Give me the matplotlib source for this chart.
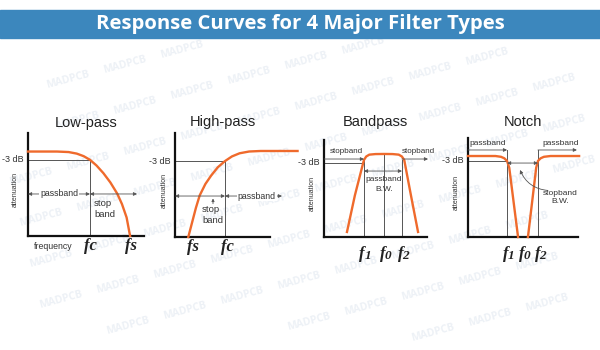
import matplotlib.pyplot as plt
from matplotlib.patches import Rectangle

# ---- chart content (axis units: 0..100 along each drawn axis) ----
title = 'Response Curves for 4 Major Filter Types'
panel_titles = ['Low-pass', 'High-pass', 'Bandpass', 'Notch']

# low-pass
lp_x = [0, 25, 35, 42, 48, 53.4, 59, 65, 71, 77, 81, 85, 88]
lp_y = [82, 82, 81.5, 80, 77.5, 74, 68.5, 61, 52, 41, 31, 18, 0]
lp_fc, lp_fs, lp_db = 53.4, 88, 74

# high-pass
hp_x = [14, 18, 22, 26, 32, 38, 45, 52.6, 60, 68, 78, 90, 129]
hp_y = [0, 14, 28, 40, 51, 59, 67, 73, 77.5, 80.5, 82.2, 82.7, 82.7]
hp_fc, hp_fs, hp_db = 52.6, 14, 73

# bandpass
bp_x = [22.3, 30, 36.5, 38.8, 41, 44, 50, 58.3, 66.6, 72.6, 75.6, 77.9, 84.4, 91.3]
bp_y = [5.2, 43, 70, 79.4, 83, 84.9, 85.5, 85.6, 85.5, 84.9, 83, 79.4, 43, 5.2]
bp_f1, bp_f0, bp_f2, bp_db, bp_top = 38.8, 58.3, 75.7, 76.3, 85.6

# notch
nt_lx = [0, 25, 30, 33, 35.5, 37.5, 45.5]
nt_ly = [81.8, 81.8, 81, 79.5, 76.8, 70, 0]
nt_rx = [54.5, 62, 63.6, 66, 69, 75, 101]
nt_ry = [0, 70, 76.8, 79.5, 81, 81.8, 81.8]
nt_f1, nt_f0, nt_f2, nt_db = 35.5, 50, 63.6, 76.8

ORANGE = '#ef6a2c'
GRAY = '#555555'
TXT = '#333333'
SANS = 'Liberation Sans'

fig = plt.figure(figsize=(6, 3.5), dpi=100)
bg = fig.add_axes([0, 0, 1, 1])
bg.set_xlim(0, 600)
bg.set_ylim(350, 0)
bg.axis('off')

# faint watermark grid
a = (57, -15)
b = (67, 26)
for i in range(-12, 14):
    for j in range(-6, 16):
        x = 47 + i * a[0] + j * b[0]
        y = 88 + i * a[1] + j * b[1]
        if 2 < x < 555 and 52 < y < 345:
            bg.text(x, y, 'MADPCB', rotation=15, rotation_mode='anchor',
                    fontsize=7.5, fontweight='bold', family='Open Sans',
                    color='#edf1f6', ha='left', va='baseline', zorder=0)

# title bar
bg.add_patch(Rectangle((0, 10), 600, 28, color='#3c87bd', zorder=5))
bg.text(300, 24.5, title, color='white', fontsize=14.6, fontweight='bold',
        family='Open Sans', ha='center', va='center', zorder=6)


def panel(x0, x1, ytop, ybot, name, title_y=122):
    ax = fig.add_axes([x0 / 600, 1 - ybot / 350, (x1 - x0) / 600, (ybot - ytop) / 350])
    ax.set_xlim(0, 100)
    ax.set_ylim(0, 100)
    ax.patch.set_alpha(0)
    for s in ['top', 'right']:
        ax.spines[s].set_visible(False)
    for s in ['left', 'bottom']:
        ax.spines[s].set_linewidth(1.6)
        ax.spines[s].set_color('#111111')
    ax.set_xticks([])
    ax.set_yticks([])
    ax.text(0.5, 1 + (ytop - title_y) / (ybot - ytop), name, transform=ax.transAxes,
            ha='center', va='center', fontsize=10.5, family=SANS, color='#222222')
    ax.text(-0.11, 0.45, 'attenuation', transform=ax.transAxes, rotation=90,
            ha='center', va='center', fontsize=5, family=SANS, color=TXT)
    return ax


def hline(ax, y, x0, x1):
    ax.plot([x0, x1], [y, y], color=GRAY, lw=0.7, clip_on=False, zorder=1)


def vline(ax, x, y0, y1):
    ax.plot([x, x], [y0, y1], color=GRAY, lw=0.7, clip_on=False, zorder=1)


def arrow(ax, x0, x1, y, style='<|-|>'):
    ax.annotate('', xy=(x1, y), xytext=(x0, y), annotation_clip=False,
                arrowprops=dict(arrowstyle=style, color=GRAY, lw=0.6,
                                mutation_scale=5, shrinkA=0, shrinkB=0))


def small(ax, x, y, s, ha='center', fs=6.3):
    ax.text(x, y, s, ha=ha, va='center', fontsize=fs, family=SANS, color=TXT,
            clip_on=False)


def db_label(ax, y):
    ax.annotate('-3 dB', xy=(0, y), xytext=(-3, 0), textcoords='offset points',
                ha='right', va='center', fontsize=6.5, family=SANS, color=TXT,
                annotation_clip=False)


def flabel(ax, x, name, sub='', dy=-10):
    ax.annotate(name, xy=(x, 0), xytext=(0, dy), textcoords='offset points',
                ha='center' if not sub else 'right', va='center',
                fontsize=12, family='Liberation Serif', style='italic',
                fontweight='bold', color='#222222', annotation_clip=False)
    if sub:
        ax.annotate(sub, xy=(x, 0), xytext=(-0.5, dy - 1.5), textcoords='offset points',
                    ha='left', va='center', fontsize=9.5, family='Liberation Serif',
                    style='italic', fontweight='bold', color='#222222',
                    annotation_clip=False)


# ---- Low-pass ----
ax = panel(28, 144, 133, 236, panel_titles[0], 123)
ax.plot(lp_x, lp_y, color=ORANGE, lw=1.7, clip_on=False, zorder=3)
hline(ax, lp_db, 0, lp_fc)
vline(ax, lp_fc, 0, lp_db)
db_label(ax, lp_db)
arrow(ax, 0, lp_fc, 40.8)
arrow(ax, lp_fc, 94, 40.8)
ax.text(lp_fc / 2, 40.8, 'passband', ha='center', va='center', fontsize=6.3,
        family=SANS, color=TXT, bbox=dict(fc='white', ec='none', pad=0.6))
small(ax, 57, 32, 'stop', ha='left', fs=6.8)
small(ax, 57, 21, 'band', ha='left', fs=6.8)
ax.annotate('frequency', xy=(5, 0), xytext=(0, -7.5), textcoords='offset points',
            ha='left', va='center', fontsize=6.3, family=SANS, color=TXT)
flabel(ax, lp_fc, 'fc', dy=-7.5)
flabel(ax, lp_fs + 1, 'fs', dy=-7.5)

# ---- High-pass ----
ax = panel(175, 270, 133, 237, panel_titles[1])
ax.plot(hp_x, hp_y, color=ORANGE, lw=1.7, clip_on=False, zorder=3)
hline(ax, hp_db, 0, hp_fc)
vline(ax, hp_fc, 0, hp_db)
db_label(ax, hp_db)
arrow(ax, 0, hp_fc, 39.4)
arrow(ax, hp_fc, 112.6, 39.4)
ax.text(86, 39.4, 'passband', ha='center', va='center', fontsize=6.3,
        family=SANS, color=TXT, bbox=dict(fc='white', ec='none', pad=0.6))
ax.annotate('', xy=(40, 37), xytext=(40, 32), annotation_clip=False,
            arrowprops=dict(arrowstyle='-|>', color=GRAY, lw=0.6,
                            mutation_scale=4, shrinkA=0, shrinkB=0))
small(ax, 28.4, 26.9, 'stop', ha='left', fs=6.8)
small(ax, 28.4, 15.4, 'band', ha='left', fs=6.8)
flabel(ax, hp_fs + 5, 'fs', dy=-7.5)
flabel(ax, hp_fc + 3, 'fc', dy=-7.5)

# ---- Bandpass ----
ax = panel(324, 427, 140, 237, panel_titles[2])
ax.plot(bp_x, bp_y, color=ORANGE, lw=1.7, clip_on=False, zorder=3)
hline(ax, bp_db, 0, bp_f1)
db_label(ax, bp_db)
vline(ax, bp_f1, 0, 79.4)
vline(ax, bp_f0, 0, bp_top)
vline(ax, bp_f2, 0, 79.4)
arrow(ax, 0, bp_f1, 80.4, '-|>')
arrow(ax, bp_f2, 101, 80.4, '-|>')
small(ax, 5.8, 88.5, 'stopband', ha='left', fs=5.8)
small(ax, bp_f2, 88.5, 'stopband', ha='left', fs=5.8)
arrow(ax, bp_f1, bp_f2, 68)
small(ax, bp_f0, 58.8, 'passband', fs=6)
small(ax, bp_f0, 48.5, 'B.W.', fs=6)
flabel(ax, bp_f1 + 1, 'f', '1', dy=-12)
flabel(ax, bp_f0 + 1, 'f', '0', dy=-12)
flabel(ax, bp_f2 + 1, 'f', '2', dy=-12)

# ---- Notch ----
ax = panel(468, 578, 138, 237, panel_titles[3])
ax.plot(nt_lx, nt_ly, color=ORANGE, lw=1.7, clip_on=False, zorder=3)
ax.plot(nt_rx, nt_ry, color=ORANGE, lw=1.7, clip_on=False, zorder=3)
hline(ax, nt_db, 0, nt_f1)
db_label(ax, nt_db)
vline(ax, nt_f1, 0, 87.9)
vline(ax, nt_f2, 0, 87.9)
arrow(ax, 0, nt_f1, 87.9, '-|>')
arrow(ax, nt_f2, 99, 87.9, '-|>')
small(ax, 1, 94, 'passband', ha='left', fs=6)
small(ax, 68, 94, 'passband', ha='left', fs=6)
arrow(ax, nt_f1, nt_f2, 74.7)
ax.annotate('', xy=(47.3, 67.7), xytext=(72.7, 47), annotation_clip=False,
            arrowprops=dict(arrowstyle='-|>', color=GRAY, lw=0.6, mutation_scale=5,
                            shrinkA=0, shrinkB=0, connectionstyle='arc3,rad=-0.3'))
small(ax, 83.6, 44.4, 'stopband', fs=6)
small(ax, 83.6, 35.4, 'B.W.', fs=6)
flabel(ax, nt_f1 + 1, 'f', '1', dy=-12)
flabel(ax, nt_f0 + 1.5, 'f', '0', dy=-12)
flabel(ax, nt_f2 + 2, 'f', '2', dy=-12)

fig.savefig('out.png', dpi=100)
